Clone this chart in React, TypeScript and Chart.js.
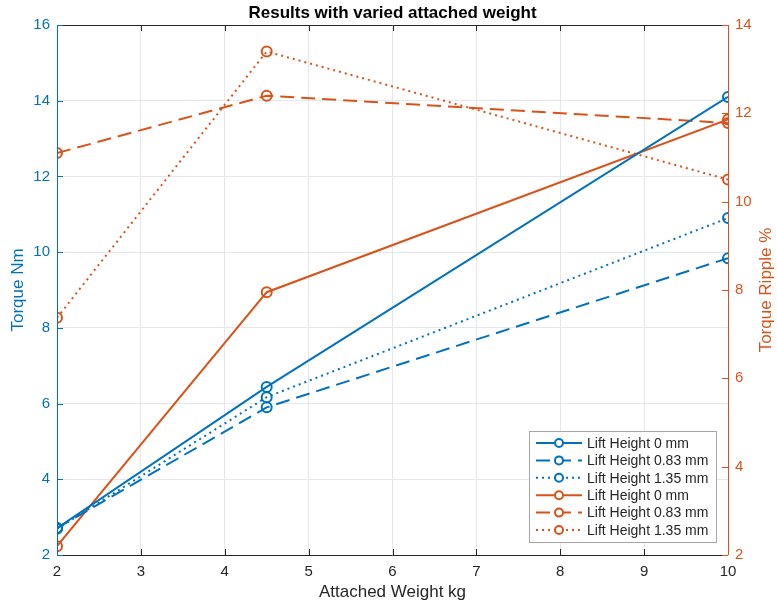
import React, { useEffect, useRef } from "react";
import { Chart, registerables } from "chart.js";

Chart.register(...registerables);

const weights = [2, 4.5, 10];
const torqueH0 = [2.71, 6.44, 14.1];
const torqueH083 = [2.71, 5.9, 9.84];
const torqueH135 = [2.69, 6.17, 10.9];
const rippleH0 = [2.2, 7.95, 11.86];
const rippleH083 = [11.1, 12.4, 11.78];
const rippleH135 = [7.37, 13.4, 10.5];
const seriesLabels = ["Lift Height 0 mm", "Lift Height 0.83 mm", "Lift Height 1.35 mm"];

const BLUE = "#0072BD";
const ORANGE = "#D95319";
const FONT = "'Liberation Sans', Arial, Helvetica, sans-serif";
const DASHED = [14, 7];
const DOTTED = [2, 4];

const pts = (ys: number[]) => weights.map((x, i) => ({ x, y: ys[i] }));

const makeDs = (label: string, data: number[], color: string, dash: number[], axis: string) => ({
  label,
  data: pts(data),
  borderColor: color,
  backgroundColor: "rgba(255,255,255,0)",
  borderWidth: 2,
  borderDash: dash,
  pointRadius: 5,
  pointBorderWidth: 2,
  pointBackgroundColor: "rgba(255,255,255,0)",
  pointBorderColor: color,
  yAxisID: axis,
  tension: 0,
});

const decorPlugin = {
  id: "decor",
  afterDraw(chart: any) {
    const { ctx, chartArea: a } = chart;
    const xs = chart.scales.x;
    const yl = chart.scales.y;
    const yr = chart.scales.y1;
    ctx.save();
    ctx.lineWidth = 1;
    ctx.strokeStyle = "#262626";
    ctx.beginPath();
    ctx.moveTo(a.left, a.top + 0.5);
    ctx.lineTo(a.right, a.top + 0.5);
    ctx.moveTo(a.left, a.bottom + 0.5);
    ctx.lineTo(a.right, a.bottom + 0.5);
    ctx.stroke();
    xs.ticks.forEach((t: any) => {
      const px = Math.round(xs.getPixelForValue(t.value)) + 0.5;
      ctx.beginPath();
      ctx.moveTo(px, a.bottom);
      ctx.lineTo(px, a.bottom - 6);
      ctx.moveTo(px, a.top);
      ctx.lineTo(px, a.top + 6);
      ctx.stroke();
    });
    ctx.strokeStyle = BLUE;
    ctx.beginPath();
    ctx.moveTo(a.left + 0.5, a.top);
    ctx.lineTo(a.left + 0.5, a.bottom);
    ctx.stroke();
    yl.ticks.forEach((t: any) => {
      const py = Math.round(yl.getPixelForValue(t.value)) + 0.5;
      ctx.beginPath();
      ctx.moveTo(a.left, py);
      ctx.lineTo(a.left + 6, py);
      ctx.stroke();
    });
    ctx.strokeStyle = ORANGE;
    ctx.beginPath();
    ctx.moveTo(a.right + 0.5, a.top);
    ctx.lineTo(a.right + 0.5, a.bottom);
    ctx.stroke();
    yr.ticks.forEach((t: any) => {
      const py = Math.round(yr.getPixelForValue(t.value)) + 0.5;
      ctx.beginPath();
      ctx.moveTo(a.right, py);
      ctx.lineTo(a.right - 6, py);
      ctx.stroke();
    });

    const cx = (a.left + a.right) / 2;
    ctx.fillStyle = "#000";
    ctx.font = `bold 17px ${FONT}`;
    ctx.textAlign = "center";
    ctx.textBaseline = "middle";
    ctx.fillText("Results with varied attached weight", cx, 13);
    ctx.fillStyle = "#262626";
    ctx.font = `17px ${FONT}`;
    ctx.fillText("Attached Weight kg", cx, 592);
    const cy = (a.top + a.bottom) / 2;
    ctx.save();
    ctx.translate(18, cy);
    ctx.rotate(-Math.PI / 2);
    ctx.fillStyle = BLUE;
    ctx.fillText("Torque Nm", 0, 0);
    ctx.restore();
    ctx.save();
    ctx.translate(766, cy);
    ctx.rotate(-Math.PI / 2);
    ctx.fillStyle = ORANGE;
    ctx.fillText("Torque Ripple %", 0, 0);
    ctx.restore();

    const lx = 529, ly = 431, lw = 187, lh = 111;
    ctx.fillStyle = "#fff";
    ctx.fillRect(lx, ly, lw, lh);
    ctx.strokeStyle = "#a6a6a6";
    ctx.lineWidth = 1;
    ctx.strokeRect(lx + 0.5, ly + 0.5, lw, lh);
    ctx.font = `14px ${FONT}`;
    ctx.textAlign = "left";
    ctx.textBaseline = "middle";
    chart.data.datasets.forEach((ds: any, i: number) => {
      const ry = ly + 12 + i * 17.4;
      ctx.strokeStyle = ds.borderColor;
      ctx.lineWidth = 2;
      ctx.setLineDash(ds.borderDash || []);
      ctx.beginPath();
      ctx.moveTo(lx + 7, ry);
      ctx.lineTo(lx + 53, ry);
      ctx.stroke();
      ctx.setLineDash([]);
      ctx.fillStyle = "#fff";
      ctx.beginPath();
      ctx.arc(lx + 30, ry, 4, 0, Math.PI * 2);
      ctx.fill();
      ctx.stroke();
      ctx.fillStyle = "#262626";
      ctx.fillText(ds.label, lx + 58, ry + 1);
    });
    ctx.restore();
  },
};

export default function App() {
  const ref = useRef<HTMLCanvasElement | null>(null);
  useEffect(() => {
    if (!ref.current) return;
    const chart = new Chart(ref.current, {
      type: "line",
      data: {
        datasets: [
          makeDs(seriesLabels[0], torqueH0, BLUE, [], "y"),
          makeDs(seriesLabels[1], torqueH083, BLUE, DASHED, "y"),
          makeDs(seriesLabels[2], torqueH135, BLUE, DOTTED, "y"),
          makeDs(seriesLabels[0], rippleH0, ORANGE, [], "y1"),
          makeDs(seriesLabels[1], rippleH083, ORANGE, DASHED, "y1"),
          makeDs(seriesLabels[2], rippleH135, ORANGE, DOTTED, "y1"),
        ] as any,
      },
      options: {
        animation: false,
        responsive: true,
        maintainAspectRatio: false,
        layout: { padding: { top: 25, left: 0, right: 0, bottom: 0 } },
        plugins: { legend: { display: false }, tooltip: { enabled: false }, title: { display: false } },
        scales: {
          x: {
            type: "linear",
            min: 2,
            max: 10,
            ticks: { stepSize: 1, color: "#262626", font: { family: FONT, size: 15 }, padding: 8 },
            grid: { color: "#e4e8ec", drawTicks: false },
            border: { display: false },
            afterFit: (s: any) => { s.height = 52; },
          },
          y: {
            type: "linear",
            position: "left",
            min: 2,
            max: 16,
            ticks: { stepSize: 2, color: BLUE, font: { family: FONT, size: 15 }, padding: 7 },
            grid: { color: "#e4e8ec", drawTicks: false },
            border: { display: false },
            afterFit: (s: any) => { s.width = 57; },
          },
          y1: {
            type: "linear",
            position: "right",
            min: 2,
            max: 14,
            ticks: { stepSize: 2, color: ORANGE, font: { family: FONT, size: 15 }, padding: 7 },
            grid: { display: false, drawTicks: false },
            border: { display: false },
            afterFit: (s: any) => { s.width = 49; },
          },
        },
      } as any,
      plugins: [decorPlugin],
    });
    return () => chart.destroy();
  }, []);
  return (
    <div style={{ position: "absolute", left: 0, top: 0, width: 777, height: 607, background: "#fff" }}>
      <canvas ref={ref} />
    </div>
  );
}
